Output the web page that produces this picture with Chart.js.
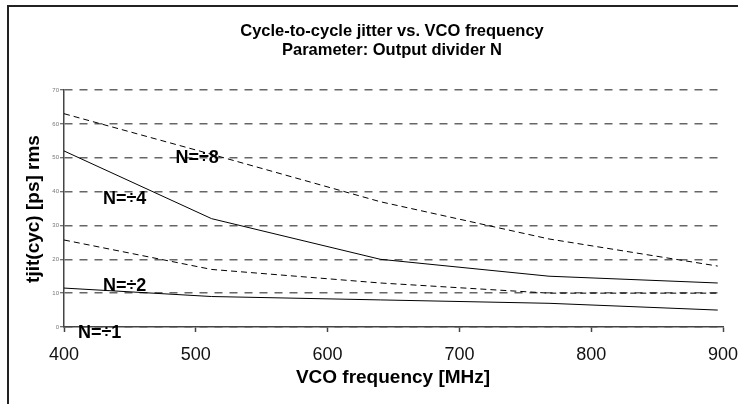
<!DOCTYPE html>
<html>
<head>
<meta charset="utf-8">
<script src="https://cdn.jsdelivr.net/npm/chart.js@4.4.1/dist/chart.umd.min.js"></script>
<style>
html,body{margin:0;padding:0;background:#fff;}
canvas{display:block;}
</style>
</head>
<body>
<canvas id="c" width="738" height="404"></canvas>
<script>
// ---- data ----
const vcoFreq = [400, 512, 640, 768, 896];
const jitterN1 = [11.5, 9, 8, 7, 5];
const jitterN2 = [25.7, 17, 13, 10, 10];
const jitterN4 = [52, 32, 20, 15, 13];
const jitterN8 = [63, 51, 37, 26, 18];
const seriesNames = ['N=÷1', 'N=÷2', 'N=÷4', 'N=÷8'];
const xTickValues = [400, 500, 600, 700, 800, 900];
const yTickValues = [0, 10, 20, 30, 40, 50, 60, 70];
// label anchors in data units [freq, jitter]
const labelAnchors = [[427, -1.8], [446, 12.2], [446, 37.8], [501, 50]];

const titleLines = ['Cycle-to-cycle jitter vs. VCO frequency', 'Parameter: Output divider N'];
const xTitle = 'VCO frequency [MHz]';
const yTitle = 'tjit(cyc) [ps] rms';

const FONT = "'Liberation Sans', Arial, sans-serif";

function pts(vals) { return vcoFreq.map((f, i) => ({x: f, y: vals[i]})); }

const allSeries = [jitterN1, jitterN2, jitterN4, jitterN8];
const dashed = [false, true, false, true];

const datasets = allSeries.map((s, i) => ({
  label: seriesNames[i],
  data: pts(s),
  borderColor: '#000',
  borderWidth: 1,
  borderDash: dashed[i] ? [6, 4] : [],
  pointRadius: 0,
  tension: 0,
  fill: false
}));

const decor = {
  id: 'decor',
  beforeDraw(chart) {
    const ctx = chart.ctx;
    ctx.save();
    ctx.fillStyle = '#fff';
    ctx.fillRect(0, 0, chart.width, chart.height);
    ctx.strokeStyle = '#222';
    ctx.lineWidth = 2;
    ctx.beginPath();
    ctx.moveTo(8, chart.height);
    ctx.lineTo(8, 6);
    ctx.lineTo(chart.width, 6);
    ctx.stroke();
    ctx.restore();
  },
  afterDraw(chart) {
    const ctx = chart.ctx;
    const xs = chart.scales.x, ys = chart.scales.y;
    ctx.save();
    ctx.fillStyle = '#000';
    ctx.textAlign = 'center';
    ctx.textBaseline = 'middle';
    ctx.font = 'bold 16.5px ' + FONT;
    ctx.fillText(titleLines[0], 392, 31);
    ctx.fillText(titleLines[1], 392, 50);
    ctx.font = 'bold 19px ' + FONT;
    ctx.fillText(xTitle, 393, 378);
    ctx.save();
    ctx.translate(34, 209);
    ctx.rotate(-Math.PI / 2);
    ctx.fillText(yTitle, 0, 0);
    ctx.restore();
    ctx.font = 'bold 18px ' + FONT;
    labelAnchors.forEach((a, i) => {
      ctx.fillText(seriesNames[i], xs.getPixelForValue(a[0]), ys.getPixelForValue(a[1]));
    });
    ctx.restore();
  }
};

new Chart(document.getElementById('c'), {
  type: 'line',
  data: { datasets },
  options: {
    responsive: false,
    animation: false,
    layout: { padding: { top: 90, right: 15, left: 0, bottom: 0 } },
    plugins: { legend: { display: false }, tooltip: { enabled: false }, title: { display: false } },
    scales: {
      x: {
        type: 'linear',
        min: 400, max: 900,
        afterBuildTicks: s => { s.ticks = xTickValues.map(v => ({value: v})); },
        afterFit: s => { s.height = 77; s.paddingRight = 0; s.paddingLeft = 0; },
        ticks: { font: { size: 18, family: FONT }, color: '#111', padding: 12, maxRotation: 0 },
        grid: { drawOnChartArea: false, drawTicks: true, tickLength: 5, tickColor: '#444', tickWidth: 1.5 },
        border: { display: true, color: '#444', width: 1.5 }
      },
      y: {
        min: 0, max: 70,
        afterBuildTicks: s => { s.ticks = yTickValues.map(v => ({value: v})); },
        afterFit: s => { s.width = 64; s.paddingTop = 0; s.paddingBottom = 0; },
        ticks: { font: { size: 6, family: FONT }, color: '#777', padding: 1 },
        grid: { color: '#666', lineWidth: 1.5, drawTicks: true, tickLength: 4, tickColor: '#444', tickWidth: 1, tickBorderDash: [] },
        border: { display: true, color: '#444', width: 1.5, dash: [8, 7] }
      }
    }
  },
  plugins: [decor]
});
</script>
</body>
</html>
